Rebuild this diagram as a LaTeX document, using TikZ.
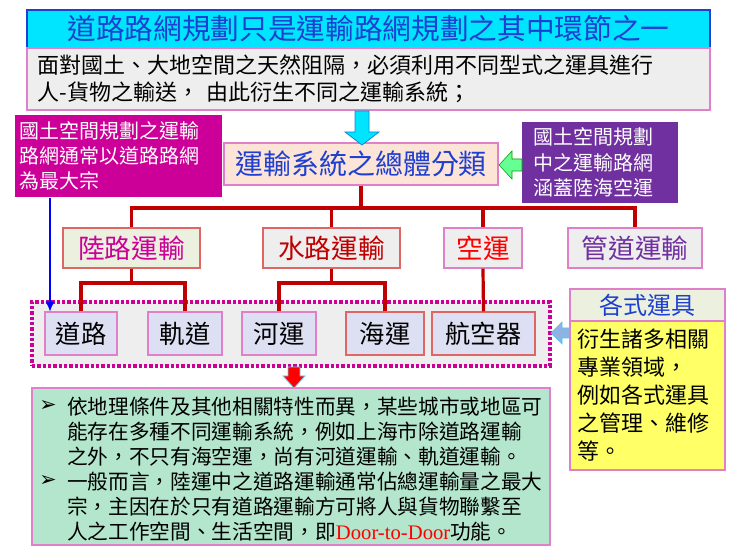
\documentclass[tikz,border=0pt]{standalone}
\usepackage{fontspec}
\setmainfont{Noto Sans CJK TC}
\newfontfamily\lat{Liberation Serif}
\newfontfamily\dv{DejaVu Sans}
\usetikzlibrary{arrows.meta}
\definecolor{tcyan}{HTML}{00E5FF}
\definecolor{tblue}{HTML}{1F3FD0}
\definecolor{pinkb}{HTML}{E080C8}
\definecolor{redb}{HTML}{E06666}
\definecolor{dred}{HTML}{C00000}
\definecolor{magbox}{HTML}{CC0099}
\definecolor{purbox}{HTML}{7030A0}
\definecolor{peach}{HTML}{FCE4D6}
\definecolor{lgreen}{HTML}{EBF1DE}
\definecolor{lgray}{HTML}{EEEEEE}
\definecolor{lav}{HTML}{DDE0F3}
\definecolor{mint}{HTML}{B3E6CC}
\definecolor{yel}{HTML}{FFFF66}
\tikzset{
  bx/.style 2 args={rectangle, inner sep=0pt, minimum width=#1*0.75pt, minimum height=#2*0.75pt, line width=0.9pt},
  bus/.style={draw=dred, line width=2.4pt},
  fs/.style 2 args={font=\fontsize{#1pt}{#2pt}\selectfont}
}
\begin{document}
\begin{tikzpicture}[x=0.75pt,y=-0.75pt]
\useasboundingbox (0,0) rectangle (740,555);
% title
\node[bx={683}{38}, fill=tcyan, draw=tblue, text=tblue, fs={21.5}{26}] (title) at (368.5,29) {道路路網規劃只是運輸路網規劃之其中環節之一};
\node[bx={683}{62}, fill=lgray, draw=pinkb, fs={16.5}{20}, align=left, text width=662*0.75pt] (intro) at (368.5,79)
 {面對國土、大地空間之天然阻隔，必須利用不同型式之運具進行\\人-貨物之輸送，\ 由此衍生不同之運輸系統；};
% side boxes
\node[bx={207}{82}, fill=magbox, text=white, fs={15}{19}, align=left, text width=197*0.75pt] (mag) at (118.5,156)
 {國土空間規劃之運輸\\路網通常以道路路網\\為最大宗};
\node[bx={156}{81}, fill=purbox, text=white, fs={15}{19}, align=left, text width=134*0.75pt] (purp) at (600,162.5)
 {國土空間規劃\\中之運輸路網\\涵蓋陸海空運};
\node[bx={274}{42}, fill=peach, draw=pinkb, text=tblue, fs={21}{24}] (cent) at (361,164) {運輸系統之總體分類};
% level 1
\node[bx={137}{40}, fill=lgreen, draw=redb, text=magbox, fs={20}{24}] (lu) at (131.5,248) {陸路運輸};
\node[bx={137}{40}, fill=lgray, draw=redb, text=dred, fs={20}{24}] (shui) at (331.5,248) {水路運輸};
\node[bx={78}{40}, fill=lgray, draw=pinkb, text=red, fs={20}{24}] (kong) at (483,248) {空運};
\node[bx={134}{40}, fill=lgray, draw=pinkb, text=purbox, fs={20}{24}] (guan) at (635,248) {管道運輸};
% dotted group
\node[bx={518}{64}, fill=lgray, draw=magbox, line width=2.6pt, dash pattern=on 2.5pt off 1.5pt] (grp) at (291,334) {};
\node[bx={72}{43}, fill=lav, draw=pinkb, fs={19}{22}] (daolu) at (81,333.5) {道路};
\node[bx={74}{43}, fill=lav, draw=pinkb, fs={19}{22}] (gui) at (185,333.5) {軌道};
\node[bx={74}{43}, fill=lav, draw=pinkb, fs={19}{22}] (he) at (279,333.5) {河運};
\node[bx={78}{43}, fill=lav, draw=redb, fs={19}{22}] (hai) at (385,333.5) {海運};
\node[bx={103}{43}, fill=lav, draw=redb, fs={19}{22}] (hang) at (483.5,333.5) {航空器};
% red tree
\coordinate (b1) at (0,208);
\coordinate (b2) at (0,283);
\draw[bus] (cent.south) -- (cent.south |- b1);
\draw[bus] (lu.north) -- (lu.north |- b1) -- (guan.north |- b1) -- (guan.north);
\draw[bus] (shui.north) -- (shui.north |- b1);
\draw[bus] (kong.north) -- (kong.north |- b1);
\draw[bus] (lu.south) -- (lu.south |- b2);
\draw[bus] (daolu.north) -- (daolu.north |- b2) -- (gui.north |- b2) -- (gui.north);
\draw[bus] (shui.south) -- (shui.south |- b2);
\draw[bus] (he.north) -- (he.north |- b2) -- (hai.north |- b2) -- (hai.north);
\draw[bus] (kong.south) -- (hang.north);
% blue line
\coordinate (bx) at (50,0);
\coordinate (bend) at (50,312);
\draw[blue, line width=1.8pt, -{Latex[length=8pt,width=7pt]}] (mag.south -| bx) -- (bend);
% block arrows
\fill[tcyan, draw=cyan!70!blue, line width=0.6pt] (355,111) -- (369,111) -- (369,132) -- (379,132) -- (362,145) -- (345,132) -- (355,132) -- cycle;
\fill[green!70!cyan!60, draw=green!60!black, line width=0.4pt] (522,159) -- (512,159) -- (512,151) -- (499,165) -- (512,179) -- (512,171) -- (522,171) -- cycle;
\fill[cyan!55!blue!45, draw=cyan!70, line width=0.4pt] (570,328) -- (562,328) -- (562,322) -- (551,333) -- (562,344) -- (562,338) -- (570,338) -- cycle;
\fill[red, draw=cyan!60, line width=0.6pt] (288,367) -- (300,367) -- (300,376) -- (305,376) -- (294,388) -- (283,376) -- (288,376) -- cycle;
% green box
\node[bx={518}{157}, fill=mint, draw=pinkb] (note) at (291,466.5) {};
\node[fs={15.5}{18.75}, anchor=north west, inner sep=0pt] (bul1) at (39,400) {\dv ➢};
\node[fs={15.5}{18.75}, anchor=north west, inner sep=0pt, align=left] (t1) at (67,397)
 {依地理條件及其他相關特性而異，某些城市或地區可\\能存在多種不同運輸系統，例如上海市除道路運輸\\之外，不只有海空運，尚有河道運輸、軌道運輸。};
\node[fs={15.5}{18.75}, anchor=north west, inner sep=0pt] (bul2) at (39,475) {\dv ➢};
\node[fs={15.5}{18.75}, anchor=north west, inner sep=0pt, align=left] (t2) at (67,472)
 {一般而言，陸運中之道路運輸通常佔總運輸量之最大\\宗，主因在於只有道路運輸方可將人與貨物聯繫至\\人之工作空間、生活空間，即{\lat\color{red}Door-to-Door}功能。};
% right
\node[bx={155}{32}, fill=lgreen, draw=pinkb, text=tblue, fs={18}{22}] (hdr) at (647.5,305) {各式運具};
\node[bx={155}{149}, fill=yel, draw=pinkb, fs={16.5}{21}, align=left, text width=140*0.75pt] (yel) at (647.5,395.5)
 {衍生諸多相關\\專業領域，\\例如各式運具\\之管理、維修\\等。};
\end{tikzpicture}
\end{document}
